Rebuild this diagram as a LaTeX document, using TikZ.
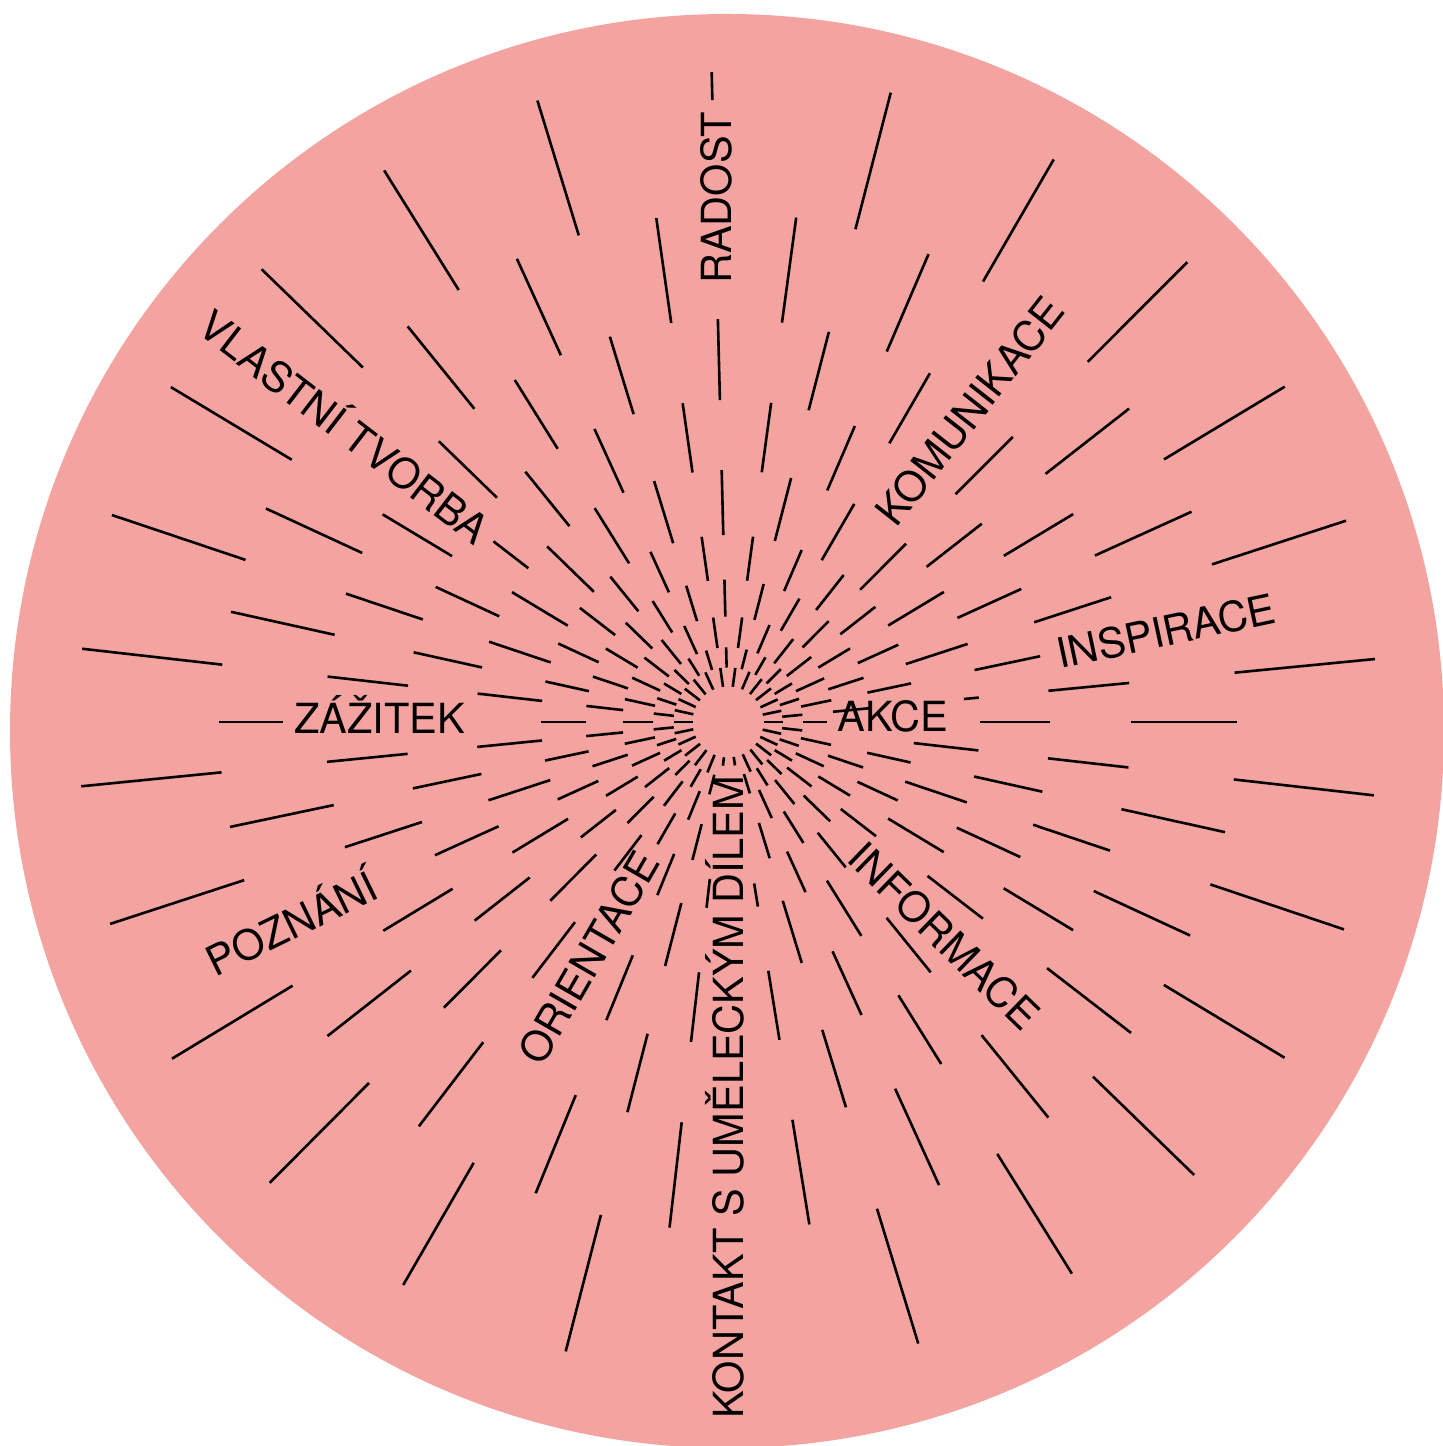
\documentclass[tikz,border=0pt]{standalone}
\usepackage{fontspec}
\setmainfont{TeX Gyre Heros}
\definecolor{bg}{RGB}{243,163,160}
\newcommand\raybands[2]{%
  \foreach \ri/\ro in {#2}
    \draw[ray] ([shift={(#1:\ri)}]C) -- ([shift={(#1:\ro)}]C);}
\begin{document}
\begin{tikzpicture}[x=1pt,y=1pt,
  ray/.style={line width=2.6pt},
  lbl/.style={font=\fontsize{41.5}{41.5}\selectfont, inner sep=0pt, text height=29.8pt, text depth=0pt}]
\useasboundingbox (0,0) rectangle (1443,1446);
\fill[white] (0,0) rectangle (1443,1446);
\fill[bg] (727,715) circle (717);
\coordinate (C) at (728,724);
\def\OB{54.5/74.7,105.5/142.5,187/252,322/403,509/650}
\def\EB{35.5/54.5,74.7/105.5,142.5/187,252/322,403/509}
% odd rays (plain)
\foreach \a in {18.04,31.06,45.03,59.93,75.5,107.05,121.94,135.85,148.99,161.43,173.53,185.68,198.1,211.2,225.16,255.54,287.02,301.94,328.9,341.39}{
  \foreach \ri/\ro in \OB
    \draw[ray] ([shift={(\a:\ri)}]C) -- ([shift={(\a:\ro)}]C);
}
% even rays (plain)
\foreach \a in {24.4,38.0,66.8,82.3,98.1,114.5,129,155.2,167.5,191.9,218.1,232.6,247.8,294.5,309,322.35,335.2,347.5}{
  \foreach \ri/\ro in \EB
    \draw[ray] ([shift={(\a:\ri)}]C) -- ([shift={(\a:\ro)}]C);
}
% rays broken by the words
\raybands{5.56}{54.5/74.7,105.5/142.5,237/252,322/403,509/650}
\raybands{353.52}{54.5/74.7,187/252,322/403,509/650}
\raybands{91.44}{54.5/74.7,105.5/142.5,187/252,322/403,622/650}
\raybands{315.82}{54.5/74.7,105.5/142.5,509/650}
\raybands{240.02}{54.5/74.7,105.5/141,509/650}
\raybands{0}{35.5/54.5,74.7/99,252/322,403/509}
\raybands{11.9}{35.5/54.5,74.7/105.5,142.5/187,252/319}
\raybands{51.8}{35.5/54.5,74.7/105.5,142.5/187}
\raybands{142.4}{35.5/54.5,74.7/105.5,142.5/187,252/296}
\raybands{180}{35.5/54.5,74.7/105.5,142.5/187,445/509}
\raybands{204.45}{35.5/54.5,74.7/105.5,142.5/187,252/322}
\raybands{263.4}{35.5/44,158/187,252/322,403/509}
\raybands{279.2}{35.5/44,163.6/187,252/322,403/509}
% words
\node[lbl,rotate=90] (radost) at (716.5,1248) {RADOST};
\node[lbl,rotate=51.8] (komunikace) at (970,1035) {KOMUNIKACE};
\node[lbl,rotate=12] (inspirace) at (1166,815) {INSPIRACE};
\node[lbl] (akce) at (893,729.5) {AKCE};
\node[lbl] (zazitek) at (379.5,727.5) {ZÁŽITEK};
\node[lbl,rotate=26] (poznani) at (292,522) {POZNÁNÍ};
\node[lbl,rotate=-37.6] (tvorba) at (344,1018.5) {VLASTNÍ TVORBA};
\node[lbl,rotate=60] (orientace) at (589,488) {ORIENTACE};
\node[lbl,rotate=90] (kontakt) at (728.5,348.5) {KONTAKT S UMĚLECKÝM DÍLEM};
\node[lbl,rotate=-44.2] (informace) at (944,510) {INFORMACE};
\end{tikzpicture}
\end{document}
